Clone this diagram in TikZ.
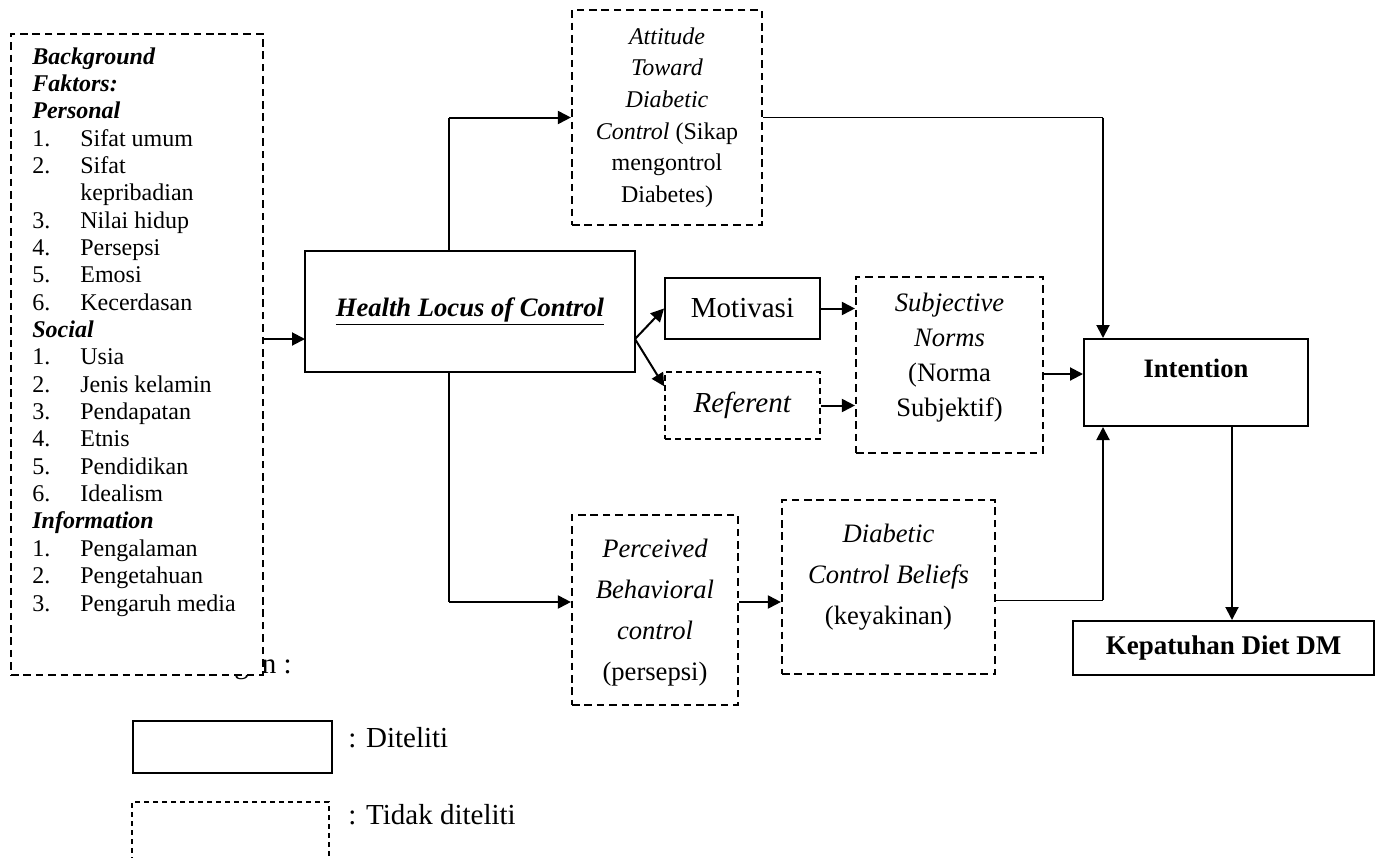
\documentclass[tikz,border=0pt]{standalone}
\usepackage{fontspec}
\setmainfont{Liberation Serif}
\usetikzlibrary{arrows.meta,calc}
\newcommand{\itm}[2]{\makebox[24pt][l]{#1}#2}
\newcommand{\contd}{\hspace*{24pt}}
\begin{document}
\begin{tikzpicture}[x=0.5pt,y=-0.5pt,
  solidbox/.style={draw,line width=1pt,inner sep=0pt,align=center},
  dashbox/.style={draw,line width=1.1pt,dash pattern=on 3.8pt off 2.4pt,inner sep=0pt,align=center},
  thindash/.style={draw,line width=0.8pt,dash pattern=on 3pt off 2pt,inner sep=0pt,align=center},
  tipa/.style={-{Triangle[length=6.5pt,width=6.5pt]}},
  conn/.style={line width=1pt,tipa},
  thinln/.style={line width=0.5pt},
  midln/.style={line width=0.75pt},
  txt/.style={inner sep=0pt,align=center},
  f12/.style={font=\fontsize{12}{15.8}\selectfont},
  f13/.style={font=\fontsize{13.3}{17.5}\selectfont},
  f14/.style={font=\fontsize{14.5}{17}\selectfont}]
\useasboundingbox (0,0) rectangle (1381,857);
\clip (0,0) rectangle (1381,857);

% legend heading (mostly hidden behind the left box)
\node[f14,anchor=base east,inner sep=0pt] (ket) at (292,673) {Keterangan :};

% background factors box
\node[dashbox,fill=white,minimum width=126pt,minimum height=320.5pt] (bg) at (137,354.5) {};
\node[anchor=base west,inner sep=0pt] (bgT) at (32,64) {\parbox[t]{120pt}{\fontsize{12}{13.675}\selectfont
\textbf{\textit{Background}}\\
\textbf{\textit{Faktors:}}\\
\textbf{\textit{Personal}}\\
\itm{1.}{Sifat umum}\\
\itm{2.}{Sifat}\\
\contd kepribadian\\
\itm{3.}{Nilai hidup}\\
\itm{4.}{Persepsi}\\
\itm{5.}{Emosi}\\
\itm{6.}{Kecerdasan}\\
\textbf{\textit{Social}}\\
\itm{1.}{Usia}\\
\itm{2.}{Jenis kelamin}\\
\itm{3.}{Pendapatan}\\
\itm{4.}{Etnis}\\
\itm{5.}{Pendidikan}\\
\itm{6.}{Idealism}\\
\textbf{\textit{Information}}\\
\itm{1.}{Pengalaman}\\
\itm{2.}{Pengetahuan}\\
\itm{3.}{Pengaruh media}}};

% main boxes
\node[solidbox,minimum width=165pt,minimum height=60.5pt,font=\fontsize{13.3}{16}\selectfont] (hlc) at (470,311.5) {\underline{\textbf{\textit{Health Locus of Control}}}};
\node[dashbox,f12,minimum width=95pt,minimum height=107.5pt] (att) at (667,117.5)
  {\textit{Attitude}\\ \textit{Toward}\\ \textit{Diabetic}\\ \textit{Control} (Sikap\\ mengontrol\\ Diabetes)};
\node[solidbox,f14,minimum width=77.5pt,minimum height=30.5pt] (mot) at (742.5,308.5) {Motivasi};
\node[thindash,f14,minimum width=77.5pt,minimum height=33.5pt] (ref) at (742.5,405.5) {\textit{Referent}};
\node[dashbox,minimum width=93.5pt,minimum height=88pt] (subj) at (949.5,365) {};
\node[txt,f13] (subjT) at (949.5,358) {\textit{Subjective}\\ \textit{Norms}\\ (Norma\\ Subjektif)};
\node[solidbox,minimum width=112pt,minimum height=43.5pt] (int) at (1196,382.5) {};
\node[txt,font=\fontsize{13.3}{16}\selectfont] (intT) at (1196,368) {\textbf{Intention}};
\node[dashbox,minimum width=83pt,minimum height=95pt] (perc) at (655,610) {};
\node[txt,font=\fontsize{13.3}{20.5}\selectfont] (percT) at (655,613) {\textit{Perceived}\\ \textit{Behavioral}\\ \textit{control}\\ (persepsi)};
\node[dashbox,minimum width=106.5pt,minimum height=87pt] (dcb) at (888.5,587) {};
\node[txt,font=\fontsize{13.3}{20.5}\selectfont] (dcbT) at (888.5,577) {\textit{Diabetic}\\ \textit{Control Beliefs}\\ (keyakinan)};
\node[solidbox,minimum width=150.5pt,minimum height=27pt,font=\fontsize{13.5}{16}\selectfont] (kep) at (1223.5,648) {\textbf{Kepatuhan Diet DM}};

% legend
\node[draw,line width=0.75pt,minimum width=99.5pt,minimum height=26pt,inner sep=0pt] (legS) at (232.5,747) {};
\node[f14,anchor=base west,inner sep=0pt] (legST) at (348,747) {: Diteliti};
\node[draw,line width=0.6pt,dash pattern=on 2.5pt off 2pt,minimum width=98.5pt,minimum height=32pt,inner sep=0pt] (legD) at (230.5,834) {};
\node[f14,anchor=base west,inner sep=0pt] (legDT) at (348,824) {: Tidak diteliti};

% helper coordinates
\coordinate (hlcIn) at (305,339);
\coordinate (hlcOut) at (635,339);
\coordinate (vt) at (449,117.5);
\coordinate (vb) at (449,602);
\coordinate (xj) at (1103,0);
\coordinate (yb) at (0,600);
\coordinate (ys) at (0,374);
\coordinate (xk) at (1232,0);

% connectors
\draw[conn] (bg.east |- hlcIn) -- (hlcIn);
\draw[midln] (hlc.north -| vt) -- (vt);
\draw[conn] (vt) -- (att.west);
\draw[midln] (hlc.south -| vb) -- (vb);
\draw[conn] (vb) -- (perc.west |- vb);
\draw[conn] (hlcOut) -- (mot.west);
\draw[conn] (hlcOut) -- ($(ref.north west)!0.22!(ref.south west)$);
\draw[conn] (mot.east) -- (subj.west |- mot.east);
\draw[conn] (ref.east) -- (subj.west |- ref.east);
\draw[conn] (subj.east |- ys) -- (int.west |- ys);
\draw[thinln] (att.east) -- (att.east -| xj);
\draw[conn] (att.east -| xj) -- (int.north -| xj);
\draw[conn] (perc.east |- vb) -- (dcb.west |- vb);
\draw[thinln] (dcb.east |- yb) -- (xj |- yb);
\draw[conn] (xj |- yb) -- (int.south -| xj);
\draw[conn] (int.south -| xk) -- (kep.north -| xk);
\end{tikzpicture}
\end{document}
